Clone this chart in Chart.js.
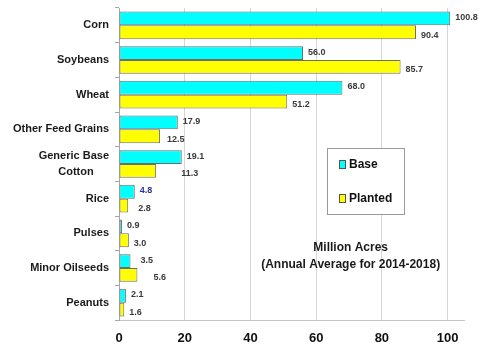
<!DOCTYPE html>
<html>
<head>
<meta charset="utf-8">
<script src="https://cdn.jsdelivr.net/npm/chart.js@4"></script>
<style>
  html, body { margin: 0; padding: 0; background: #fff; }
</style>
</head>
<body>
<canvas id="myChart" width="482" height="362"></canvas>
<script>
// datos (millones de acres)
const categorias = ['Corn', 'Soybeans', 'Wheat', 'Other Feed Grains', ['Generic Base', 'Cotton     '],
  'Rice', 'Pulses', 'Minor Oilseeds', 'Peanuts'];
const base = [100.8, 56.0, 68.0, 17.9, 19.1, 4.8, 0.9, 3.5, 2.1];
const planted = [90.4, 85.7, 51.2, 12.5, 11.3, 2.8, 3.0, 5.6, 1.6];
const ticksX = [0, 20, 40, 60, 80, 100];
const nota = ['Million Acres', '(Annual Average for 2014-2018)'];

const fuente = "'Liberation Sans', Arial, sans-serif";

// etiquetas de valor a la derecha de cada barra
const etiquetasValor = {
  id: 'etiquetasValor',
  afterDatasetsDraw(chart) {
    const ctx = chart.ctx;
    ctx.save();
    ctx.font = 'bold 9px ' + fuente;
    ctx.textBaseline = 'middle';
    ctx.textAlign = 'left';
    // pequenos desplazamientos como en el original
    const extra = [
      [0, 0, 0, 0, 0, 0, 0, 5, 0],
      [0, 0, 0, 2, 20, 5, 0, 11, 0]
    ];
    chart.data.datasets.forEach((ds, i) => {
      const meta = chart.getDatasetMeta(i);
      meta.data.forEach((bar, j) => {
        ctx.fillStyle = (i === 0 && j === 5) ? '#2e3192' : '#3a3a3a';
        const dy = i === 0 ? -1 : 3;
        ctx.fillText(ds.data[j].toFixed(1), bar.x + 5 + extra[i][j], bar.y + dy);
      });
    });
    ctx.restore();
  }
};

// leyenda dentro del area del grafico y texto de nota
const leyendaNota = {
  id: 'leyendaNota',
  afterDraw(chart) {
    const ctx = chart.ctx;
    const sx = chart.scales.x;
    ctx.save();
    // caja
    const bx = 327.5, by = 148.5, bw = 77, bh = 66;
    ctx.fillStyle = '#ffffff';
    ctx.fillRect(bx, by, bw, bh);
    ctx.strokeStyle = '#9a9a9a';
    ctx.lineWidth = 1;
    ctx.strokeRect(bx, by, bw, bh);
    ctx.font = 'bold 12px ' + fuente;
    ctx.textBaseline = 'middle';
    ctx.textAlign = 'left';
    chart.data.datasets.forEach((ds, i) => {
      const y = 165 + i * 34;
      ctx.fillStyle = ds.backgroundColor;
      ctx.fillRect(339.5, y - 4.5, 6, 8);
      ctx.strokeStyle = '#555';
      ctx.strokeRect(339.5, y - 4.5, 6, 8);
      ctx.fillStyle = '#111';
      ctx.fillText(ds.label, 349, y);
    });
    // nota
    ctx.textAlign = 'center';
    ctx.fillStyle = '#1a1a1a';
    const cx = sx.getPixelForValue(70.5);
    ctx.fillText(nota[0], cx, 248);
    ctx.fillText(nota[1], cx, 265);
    ctx.restore();
  }
};

const ctx = document.getElementById('myChart').getContext('2d');
new Chart(ctx, {
  type: 'bar',
  data: {
    labels: categorias,
    datasets: [{
      label: 'Base',
      data: base,
      backgroundColor: '#00ffff',
      borderColor: '#6d6d6d',
      borderWidth: 1,
      borderSkipped: false,
      categoryPercentage: 0.8,
      barPercentage: 1.0
    }, {
      label: 'Planted',
      data: planted,
      backgroundColor: '#ffff00',
      borderColor: '#6d6d6d',
      borderWidth: 1,
      borderSkipped: false,
      categoryPercentage: 0.8,
      barPercentage: 1.0
    }]
  },
  options: {
    indexAxis: 'y',
    responsive: false,
    animation: false,
    layout: {
      padding: { left: 0, right: 18, top: 8, bottom: 0 }
    },
    plugins: {
      legend: { display: false },
      tooltip: { enabled: false }
    },
    scales: {
      x: {
        min: 0,
        max: 105,
        afterBuildTicks(scale) {
          scale.ticks = ticksX.map(v => ({ value: v }));
        },
        afterFit(scale) {
          scale.height = 42;
          scale.paddingLeft = 0;
          scale.paddingRight = 0;
        },
        grid: {
          color: '#d6d6d6',
          drawTicks: false
        },
        border: { color: '#c4c4c4' },
        ticks: {
          padding: 11,
          color: '#111',
          font: { family: fuente, size: 13, weight: 'bold' }
        }
      },
      y: {
        afterFit(scale) {
          scale.width = 119;
          scale.paddingTop = 0;
          scale.paddingBottom = 0;
        },
        grid: {
          drawOnChartArea: false,
          tickLength: 4,
          tickColor: '#a8a8a8',
          offset: true
        },
        border: { color: '#a8a8a8' },
        ticks: {
          autoSkip: false,
          padding: 6,
          color: '#1a1a1a',
          font: { family: fuente, size: 11, weight: 'bold', lineHeight: 1.45 }
        }
      }
    }
  },
  plugins: [etiquetasValor, leyendaNota]
});
</script>
</body>
</html>
